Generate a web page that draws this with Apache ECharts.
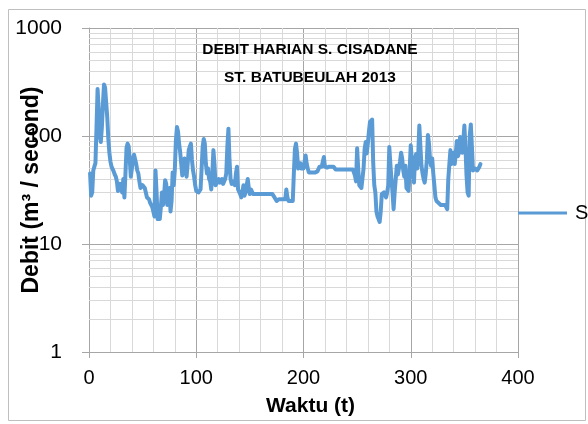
<!DOCTYPE html>
<html>
<head>
<meta charset="utf-8">
<script src="https://cdn.jsdelivr.net/npm/echarts@6/dist/echarts.min.js"></script>
<style>
html,body{margin:0;padding:0;background:#fff;}
#chart{width:588px;height:424px;}
</style>
</head>
<body>
<div id="chart"></div>
<script>
const titleLines = ['DEBIT HARIAN S. CISADANE', 'ST. BATUBEULAH 2013'];
const seriesName = 'Series1';
const xTicks = [0, 100, 200, 300, 400];
const yTicks = [1, 10, 100, 1000];
const minorGridValues = [2,3,4,5,6,7,8,9,20,30,40,50,60,70,80,90,200,300,400,500,600,700,800,900];
// daily discharge, day 1..365
const flow = [
  45, 28, 30, 48, 52, 56, 120, 272, 180, 100,
  88, 120, 200, 300, 280, 205, 150, 95, 70, 58,
  52, 50, 47, 44, 42, 38, 31, 30, 36, 32,
  30, 40, 27, 45, 78, 85, 80, 60, 42, 50,
  62, 67, 65, 55, 48, 45, 38, 33, 33, 35,
  34, 33, 30, 27, 26, 26, 24, 23, 22, 20,
  18, 48, 30, 17, 17, 17, 22, 30, 23, 28,
  39, 36, 23, 28, 33, 20, 25, 46, 35, 48,
  90, 121, 110, 85, 71, 55, 43, 52, 62, 50,
  42, 55, 74, 80, 85, 60, 48, 42, 35, 31,
  30, 30, 29, 32, 50, 80, 94, 85, 55, 45,
  50, 40, 38, 32, 45, 74, 55, 35, 36, 38,
  40, 37, 38, 40, 36, 38, 40, 45, 80, 117,
  60, 40, 36, 38, 37, 35, 45, 52, 32, 31,
  29, 27, 30, 35, 28, 30, 35, 40, 33, 29,
  32, 33, 29, 30, 29, 29, 29, 29, 29, 29,
  29, 29, 29, 29, 29, 29, 29, 29, 29, 29,
  29, 28, 27, 26, 25, 26, 26, 26, 26, 26,
  26, 25, 26, 32, 27, 25, 25, 25, 25, 25,
  45, 76, 85, 70, 50, 52, 56, 50, 50, 50,
  58, 66, 55, 50, 46, 46, 46, 46, 46, 46,
  46, 46, 47, 49, 52, 50, 52, 58, 64, 52,
  51, 51, 52, 52, 52, 52, 52, 52, 50, 49,
  49, 49, 49, 49, 49, 49, 49, 49, 49, 49,
  49, 49, 49, 49, 49, 49, 49, 43, 38, 77,
  50, 35, 36, 33, 34, 50, 76, 88, 69, 85,
  110, 135, 140, 142, 56, 35, 30, 20, 18, 17,
  16, 20, 29, 28, 30, 29, 27, 30, 35, 79,
  55, 40, 30, 21, 30, 40, 53, 44, 50, 58,
  70, 62, 48, 42, 53, 33, 32, 31, 50, 82,
  60, 45, 37, 62, 68, 50, 68, 125, 80, 53,
  45, 40, 37, 45, 60, 102, 85, 60, 53, 62,
  45, 35, 27, 25, 24, 24, 24, 23, 23, 23,
  23, 23, 23, 21, 40, 55, 74, 55, 60, 70,
  55, 70, 90, 65, 70, 98, 75, 70, 90, 125,
  80, 43, 30, 28, 100, 128, 80, 48, 47, 50,
  50, 48, 50, 52, 55
];
const days = flow.map((_, i) => i + 1);

const chart = echarts.init(document.getElementById('chart'), null, {renderer: 'canvas'});
const FONT = 'Liberation Sans';
chart.setOption({
  animation: false,
  backgroundColor: '#ffffff',
  textStyle: {fontFamily: FONT},
  graphic: [{
    type: 'rect', left: 6, top: 7, z: -10,
    shape: {width: 577, height: 411},
    style: {fill: 'none', stroke: '#bfbfbf', lineWidth: 1}
  }],
  title: [{
    text: titleLines[0], left: 305, top: 37, textAlign: 'center',
    textStyle: {fontSize: 15.5, fontWeight: 'bold', color: '#000', fontFamily: FONT}
  }, {
    text: titleLines[1], left: 305, top: 65, textAlign: 'center',
    textStyle: {fontSize: 15.5, fontWeight: 'bold', color: '#000', fontFamily: FONT}
  }],
  legend: {
    data: [seriesName], left: 518, top: 203, icon: 'rect', padding: 0,
    itemWidth: 49, itemHeight: 3, itemGap: 10,
    textStyle: {fontSize: 20, color: '#000', fontFamily: FONT, padding: [0,0,0,3]}
  },
  grid: {left: 89, right: 70, top: 28, bottom: 72, containLabel: false, outerBoundsMode: 'none'},
  xAxis: {
    type: 'value', min: xTicks[0], max: xTicks[xTicks.length - 1], interval: 100,
    name: 'Waktu (t)', nameLocation: 'middle', nameGap: 44, nameMoveOverlap: false,
    nameTextStyle: {fontSize: 21, fontWeight: 'bold', color: '#000', fontFamily: FONT, padding: [0,0,0,14]},
    axisLine: {show: true, onZero: false, lineStyle: {color: '#a6a6a6', width: 1}},
    axisTick: {show: true, inside: false, length: 6, lineStyle: {color: '#a6a6a6'}},
    axisLabel: {fontSize: 20, color: '#000', margin: 16, fontFamily: FONT},
    splitLine: {show: true, lineStyle: {color: '#a6a6a6', width: 1}},
    minorTick: {show: false, splitNumber: 5},
    minorSplitLine: {show: true, lineStyle: {color: '#d9d9d9', width: 1}}
  },
  yAxis: {
    type: 'log', logBase: 10, min: yTicks[0], max: yTicks[yTicks.length - 1],
    name: 'Debit (m³ / second)', nameLocation: 'middle', nameGap: 46, nameRotate: 90, nameMoveOverlap: false,
    nameTextStyle: {fontSize: 23, fontWeight: 'bold', color: '#000', fontFamily: FONT},
    axisLine: {show: true, lineStyle: {color: '#a6a6a6', width: 1}},
    axisTick: {show: true, inside: false, length: 7, lineStyle: {color: '#a6a6a6'}},
    axisLabel: {fontSize: 21, color: '#000', margin: 27, fontFamily: FONT, formatter: v => String(v)},
    splitLine: {show: true, lineStyle: {color: '#a6a6a6', width: 1}}
  },
  series: [{
    name: 'grid', type: 'line', data: [], z: 0, silent: true,
    markLine: {
      silent: true, symbol: 'none', animation: false,
      label: {show: false},
      lineStyle: {color: '#d9d9d9', width: 1, type: 'solid'},
      data: minorGridValues.map(v => ({yAxis: v}))
    }
  }, {
    name: seriesName, type: 'line', z: 5,
    data: days.map((d, i) => [d, flow[i]]),
    showSymbol: false, symbol: 'none',
    lineStyle: {color: '#5b9bd5', width: 4, join: 'round', cap: 'round'},
    itemStyle: {color: '#5b9bd5'}
  }]
});
</script>
</body>
</html>
